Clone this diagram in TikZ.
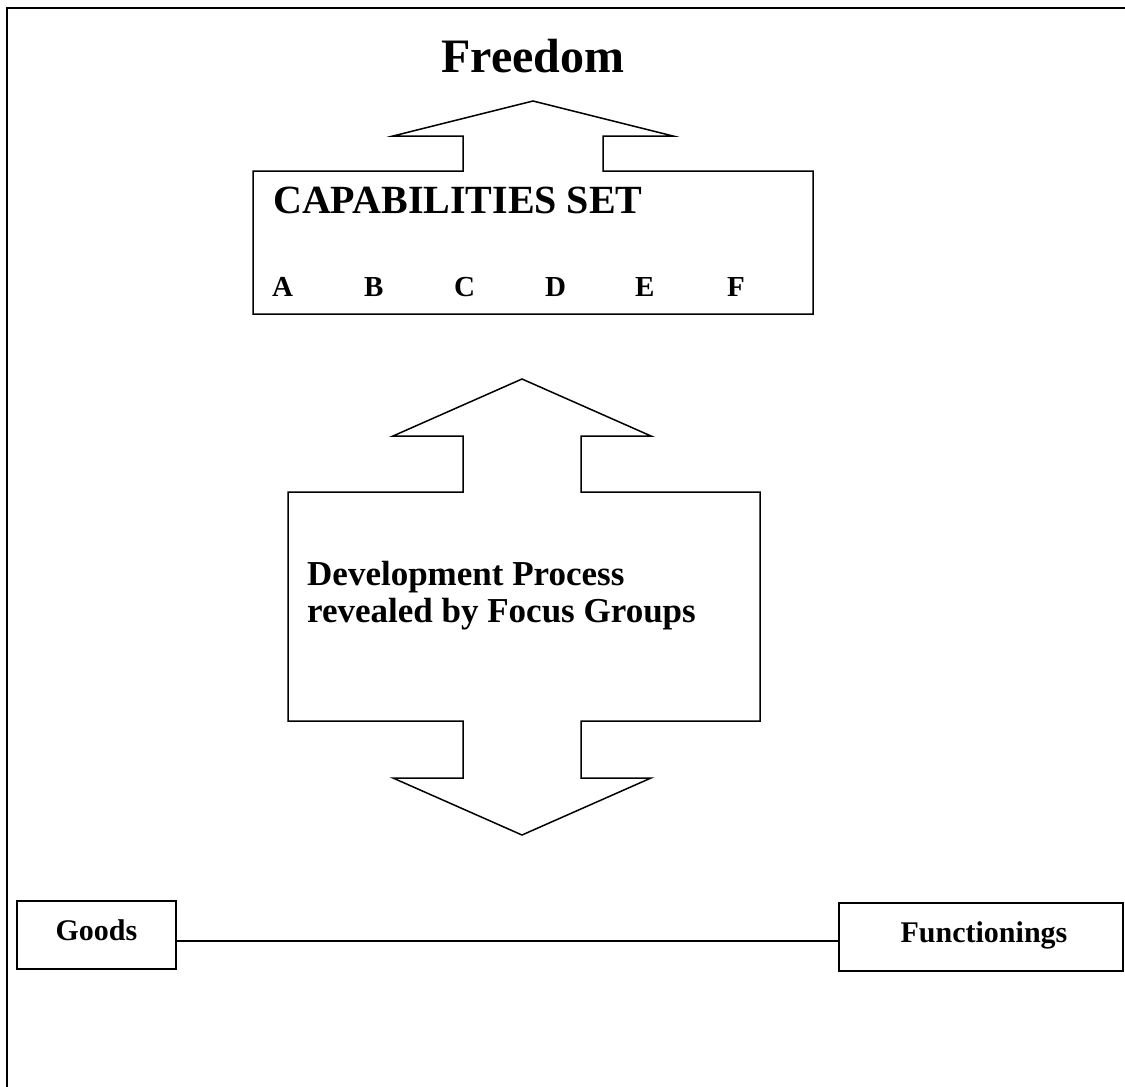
\documentclass[tikz,border=0pt]{standalone}
\usepackage{fontspec}
\setmainfont{Liberation Serif}
\begin{document}
\begin{tikzpicture}[x=1pt,y=-1pt,
  outline/.style={draw=black,line width=1.5pt,line join=miter},
  frame/.style={draw=black,line width=2.2pt},
  lbl/.style={inner sep=0pt,anchor=base west,font=\bfseries},
  boxnode/.style={draw=black,line width=1.5pt,inner sep=0pt}
]
\useasboundingbox (0,0) rectangle (1125,1087);
\begin{scope}
\clip (0,0) rectangle (1125,1087);
\draw[frame] (7,8) rectangle (1140,1110);
\end{scope}

% Freedom
\node[lbl,anchor=base] (freedom) at (533,72) {\fontsize{48}{56}\selectfont Freedom};

% Capabilities box with upward arrow
\draw[outline] (253,171) -- (463,171) -- (463,136) -- (393,136) -- (533,101)
  -- (673,136) -- (603,136) -- (603,171) -- (813,171) -- (813,314) -- (253,314) -- cycle;
\node[lbl] (capset) at (273,213) {\fontsize{40}{48}\selectfont CAPABILITIES SET};
\node[lbl] (la) at (272,296) {\fontsize{29}{34}\selectfont A};
\node[lbl] (lb) at (364,296) {\fontsize{29}{34}\selectfont B};
\node[lbl] (lc) at (454,296) {\fontsize{29}{34}\selectfont C};
\node[lbl] (ld) at (545,296) {\fontsize{29}{34}\selectfont D};
\node[lbl] (le) at (635,296) {\fontsize{29}{34}\selectfont E};
\node[lbl] (lf) at (727,296) {\fontsize{29}{34}\selectfont F};

% Double arrow
\draw[outline] (288,492) -- (463,492) -- (463,436) -- (393,436) -- (522,379)
  -- (651,436) -- (581,436) -- (581,492) -- (760,492) -- (760,721)
  -- (581,721) -- (581,778) -- (651,778) -- (522,835) -- (393,778)
  -- (463,778) -- (463,721) -- (288,721) -- cycle;
\node[lbl] (dev1) at (307,585) {\fontsize{35}{40}\selectfont Development Process};
\node[lbl] (dev2) at (307,622) {\fontsize{35}{40}\selectfont revealed by Focus Groups};

% Goods and Functionings
\node[boxnode,minimum width=159pt,minimum height=68pt] (goods) at (96.5,935) {};
\node[lbl,anchor=base] (goodsT) at (96.5,940) {\fontsize{30}{36}\selectfont Goods};
\node[boxnode,minimum width=284pt,minimum height=68pt] (func) at (981,937) {};
\node[lbl,anchor=base] (funcT) at (984,942) {\fontsize{30}{36}\selectfont Functionings};
\coordinate (liney) at (0,941);
\draw[line width=1.5pt] (goods.east |- liney) -- (func.west |- liney);
\end{tikzpicture}
\end{document}
